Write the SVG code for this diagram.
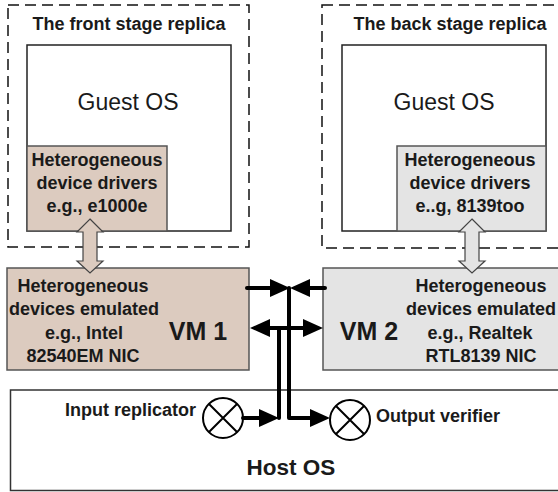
<svg xmlns="http://www.w3.org/2000/svg" width="558" height="492" viewBox="0 0 558 492">
<style>
.dash{fill:none;stroke:#111;stroke-width:1.5;stroke-dasharray:11 6}
.guest{fill:#fff;stroke:#222;stroke-width:1.5}
.tan{fill:#dccbbf;stroke:#555;stroke-width:1.5}
.gray{fill:#e4e4e4;stroke:#555;stroke-width:1.5}
.host{fill:#fff;stroke:#333;stroke-width:1.5}
.hollowT{fill:#dccbbf;stroke:#444;stroke-width:1.2}
.hollowG{fill:#e4e4e4;stroke:#444;stroke-width:1.2}
.conn{fill:none;stroke:#000;stroke-width:4;stroke-linejoin:round;stroke-linecap:round}
.sum{fill:#fff;stroke:#000;stroke-width:2}
text{font-family:"Liberation Sans",Arial,sans-serif;fill:#1a1a1a}
.b{font-weight:bold;font-size:18px}
.title{font-weight:bold;font-size:18px}
.os{font-size:23px}
.vm{font-weight:bold;font-size:25px}
.mid{text-anchor:middle}
</style>
<defs>
<marker id="ah" markerUnits="userSpaceOnUse" markerWidth="22" markerHeight="20" refX="10" refY="9" orient="auto">
<path d="M0,0 L20,9 L0,18 Z" fill="#000"/>
</marker>
</defs>

<g id="front-replica">
<rect class="dash" x="8" y="5" width="241" height="242"/>
<text class="title mid" x="129" y="30">The front stage replica</text>
</g>
<g id="back-replica">
<rect class="dash" x="322" y="5" width="260" height="243"/>
<text class="title mid" x="450" y="30">The back stage replica</text>
</g>
<g id="guest-os-1">
<rect class="guest" x="27" y="45" width="204" height="186"/>
<text class="os mid" x="128" y="110">Guest OS</text>
</g>
<g id="guest-os-2">
<rect class="guest" x="342" y="45" width="204" height="186"/>
<text class="os mid" x="444" y="110">Guest OS</text>
</g>
<g id="drivers-1">
<rect class="tan" x="27" y="146" width="140" height="85"/>
<text class="b mid" x="97" y="166">Heterogeneous</text>
<text class="b mid" x="97" y="189">device drivers</text>
<text class="b mid" x="97" y="212">e.g., e1000e</text>
</g>
<g id="drivers-2">
<rect class="gray" x="397" y="146" width="149" height="85"/>
<text class="b mid" x="470" y="166">Heterogeneous</text>
<text class="b mid" x="470" y="189">device drivers</text>
<text class="b mid" x="470" y="212">e..g, 8139too</text>
</g>
<g id="vm1">
<rect class="tan" x="7" y="268" width="242" height="102"/>
<text class="b mid" x="83" y="292">Heterogeneous</text>
<text class="b mid" x="84" y="315">devices emulated</text>
<text class="b mid" x="84" y="339">e.g., Intel</text>
<text class="b mid" x="83" y="362">82540EM NIC</text>
<text class="vm mid" x="198" y="340">VM 1</text>
</g>
<g id="vm2">
<rect class="gray" x="323" y="268" width="260" height="102"/>
<text class="vm mid" x="369" y="340">VM 2</text>
<text class="b mid" x="481" y="292">Heterogeneous</text>
<text class="b mid" x="481" y="315">devices emulated</text>
<text class="b mid" x="480" y="339">e.g., Realtek</text>
<text class="b mid" x="481" y="362">RTL8139 NIC</text>
</g>
<g id="host-os">
<rect class="host" x="10.5" y="390" width="600" height="100.5"/>
<text class="mid" x="291" y="475" style="font-weight:bold;font-size:22.5px">Host OS</text>
</g>
<g id="input-replicator">
<circle class="sum" cx="223" cy="418" r="20"/>
<path d="M209,404 L237,432 M237,404 L209,432" stroke="#000" stroke-width="2"/>
<text class="b" x="196" y="416" text-anchor="end">Input replicator</text>
</g>
<g id="output-verifier">
<circle class="sum" cx="350" cy="420" r="20"/>
<path d="M336,406 L364,434 M364,406 L336,434" stroke="#000" stroke-width="2"/>
<text class="b" x="376" y="422">Output verifier</text>
</g>

<g id="connectors">
<path class="hollowT" d="M90,219 L103,232 L97,232 L97,261 L103,261 L90,273 L77,261 L83,261 L83,232 L77,232 Z"/>
<path class="hollowG" d="M472,219 L485,232 L479,232 L479,261 L485,261 L472,273 L459,261 L465,261 L465,232 L459,232 Z"/>
<path class="conn" d="M247,288 H280" marker-end="url(#ah)"/>
<path class="conn" d="M325,288 H300" marker-end="url(#ah)"/>
<path class="conn" d="M289,288 V418 H320" marker-end="url(#ah)"/>
<path class="conn" d="M243,418 H269" marker-end="url(#ah)"/>
<path class="conn" d="M279,418 V328"/>
<path class="conn" d="M279,328 H260" marker-end="url(#ah)"/>
<path class="conn" d="M279,328 H313" marker-end="url(#ah)"/>
</g>
</svg>
